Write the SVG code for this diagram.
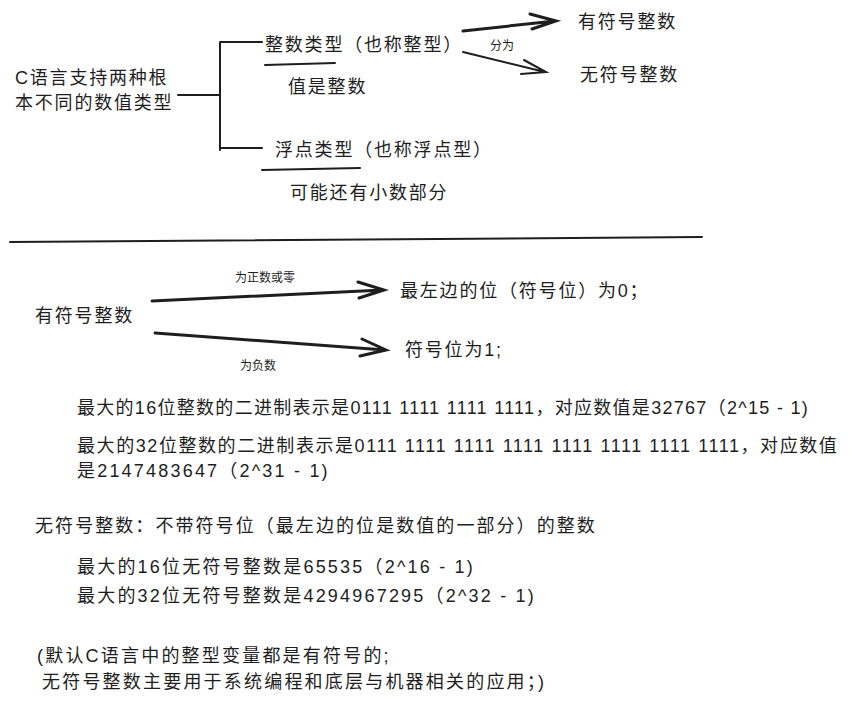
<svg xmlns="http://www.w3.org/2000/svg" width="850" height="704" viewBox="0 0 850 704">
<style>
text{font-family:"Liberation Sans","Noto Sans CJK SC",sans-serif;fill:#1e1e1e}
.t{font-size:18px;letter-spacing:1.8px}.m{font-size:18px;letter-spacing:2.2px}.s{font-size:12px}
.l{stroke:#1e1e1e;stroke-width:2;fill:none;stroke-linecap:round}
.a{stroke:#1e1e1e;stroke-width:3;fill:none;stroke-linecap:round}
</style>
<rect width="850" height="704" fill="#fff"/>
<g id="connectors">
<path class="l" d="M178 95H220M220 42V150M220 42H262M220 148H262"/>
<path class="l" d="M265 65L335 63M262 170L360 168M10 242L702 237"/>
<path class="a" d="M463 31L555 21M530 14L556 21L532 29"/>
<path class="l" d="M463 52L545 72M524 60L546 72L521 74"/>
<path class="a" d="M152 301L383 290M358 282L384 290L359 298"/>
<path class="a" d="M155 333L385 350M362 339L386 350L360 356"/>
</g>
<g id="root"><text class="t" x="15" y="84">C语言支持两种根</text><text class="t" x="15" y="109">本不同的数值类型</text></g>
<g id="int"><text class="t" x="265" y="51">整数类型（也称整型）</text><text class="t" x="288" y="93">值是整数</text></g>
<g id="float"><text class="t" x="275" y="156">浮点类型（也称浮点型）</text><text class="t" x="290" y="199">可能还有小数部分</text></g>
<g id="split"><text class="s" x="490" y="50">分为</text></g>
<g id="signed"><text class="t" x="578" y="28">有符号整数</text></g>
<g id="unsigned"><text class="t" x="580" y="81">无符号整数</text></g>
<g id="s2"><text class="t" x="35" y="322">有符号整数</text></g>
<g id="lbl"><text class="s" x="235" y="282">为正数或零</text><text class="s" x="240" y="370">为负数</text></g>
<g id="pos"><text class="t" x="400" y="297">最左边的位（符号位）为0；</text></g>
<g id="neg"><text class="t" x="405" y="356">符号位为1;</text></g>
<g id="notes">
<text class="m" x="77" y="414" textLength="733">最大的16位整数的二进制表示是0111 1111 1111 1111，对应数值是32767（2^15 - 1)</text>
<text class="m" x="77" y="452" textLength="762">最大的32位整数的二进制表示是0111 1111 1111 1111 1111 1111 1111 1111，对应数值</text>
<text class="m" x="77" y="477">是2147483647（2^31 - 1)</text>
<text class="m" x="35" y="532" textLength="562">无符号整数：不带符号位（最左边的位是数值的一部分）的整数</text>
<text class="m" x="77" y="573">最大的16位无符号整数是65535（2^16 - 1)</text>
<text class="m" x="77" y="602">最大的32位无符号整数是4294967295（2^32 - 1)</text>
<text class="m" x="37" y="662">(默认C语言中的整型变量都是有符号的;</text>
<text class="m" x="42" y="688">无符号整数主要用于系统编程和底层与机器相关的应用；)</text>
</g>
</svg>
